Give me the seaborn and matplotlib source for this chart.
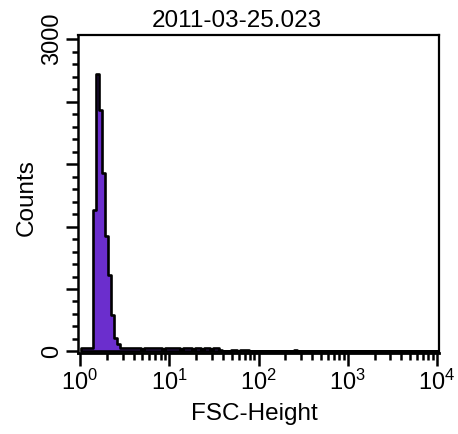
import numpy as np
import pandas as pd
import matplotlib
matplotlib.use("Agg")
import matplotlib.pyplot as plt
import seaborn as sns
from matplotlib.ticker import FixedLocator, MultipleLocator, FuncFormatter

# ---------------- data ----------------
title = "2011-03-25.023"
x_label = "FSC-Height"
y_label = "Counts"

bin_start_log = 0.015      # first bin edge (log10 units)
bin_width_log = 0.0335     # bin width (log10 units)
n_bins = 119

counts = [
    30, 32, 31, 30,                                   # below the peak
    1356, 2670, 2317, 1712, 1106, 731, 346, 125, 67,  # main peak
    32, 30, 31, 29, 30, 31, 30, 28, 30, 29, 31,       # low plateau
    30, 29, 30, 28, 30, 29, 31, 30, 29, 28, 30,
    29, 30, 28, 29, 30, 28, 29, 30, 28, 29, 30,
    12, 0, 0, 0, 15, 10, 0, 15, 15, 12,               # sparse events
    0, 0, 0, 0, 0, 0, 0, 0, 0, 0, 0, 0, 0, 0, 0, 10,
]

y_major_ticks = [0, 600, 1200, 1800, 2400, 3000]
y_labeled_ticks = [0, 3000]
y_minor_step = 120
x_decades = [0, 4]

purple = "#6b2ecd"

# ---------------- figure ----------------
sns.set_style("ticks")
plt.rcParams["font.family"] = ["Liberation Sans", "DejaVu Sans"]
plt.rcParams["mathtext.fontset"] = "custom"
plt.rcParams["mathtext.rm"] = "Liberation Sans"
plt.rcParams["mathtext.it"] = "Liberation Sans:italic"
plt.rcParams["mathtext.bf"] = "Liberation Sans:bold"
plt.rcParams["text.color"] = "black"
plt.rcParams["axes.labelcolor"] = "black"
plt.rcParams["xtick.color"] = "black"
plt.rcParams["ytick.color"] = "black"

W, H = 458, 434
fig = plt.figure(figsize=(W / 100, H / 100), dpi=100)
ax_left, ax_right, ax_top, ax_bottom = 78, 439, 35, 352.5
ax = fig.add_axes([ax_left / W, 1 - ax_bottom / H,
                   (ax_right - ax_left) / W, (ax_bottom - ax_top) / H])

centers = [10 ** (bin_start_log + (k + 0.5) * bin_width_log) for k in range(len(counts))]
df = pd.DataFrame({"fsc": centers, "count": counts})

sns.histplot(data=df, x="fsc", weights="count", log_scale=True,
             binwidth=bin_width_log,
             binrange=(bin_start_log, bin_start_log + n_bins * bin_width_log),
             element="step", fill=True, color=purple, edgecolor="black",
             linewidth=1.9, alpha=1, ax=ax)

px_per_decade = (437 - 80) / 4
ax.set_xlim(10 ** (x_decades[0] - 2 / px_per_decade), 10 ** (x_decades[1] + 2 / px_per_decade))
ax.set_ylim(-10, 3040)

# spines
for s in ax.spines.values():
    s.set_color("black")
    s.set_linewidth(1.6)
ax.spines["bottom"].set_linewidth(2.0)
ax.spines["left"].set_linewidth(1.8)

# y ticks
ax.yaxis.set_major_locator(FixedLocator(y_major_ticks))
ax.yaxis.set_minor_locator(MultipleLocator(y_minor_step))
ax.yaxis.set_major_formatter(FuncFormatter(
    lambda v, p: f"{int(round(v))}" if int(round(v)) in y_labeled_ticks else ""))
ax.tick_params(axis="y", which="major", length=8.8, width=1.8, pad=2, labelsize=17,
               labelrotation=90, color="black", labelcolor="black")
ax.tick_params(axis="y", which="minor", length=4.4, width=1.8, color="black")
for lab in ax.get_yticklabels():
    lab.set_va("center")

# x ticks
ax.tick_params(axis="x", which="major", length=9.4, width=1.8, pad=3, labelsize=17,
               color="black", labelcolor="black")
ax.tick_params(axis="x", which="minor", length=5.0, width=1.8, color="black")

# labels
ax.set_xlabel(x_label, fontsize=17.5, va="baseline", color="black")
ax.xaxis.set_label_coords((254 - ax_left) / (ax_right - ax_left),
                          (ax_bottom - 420) / (ax_bottom - ax_top))
ax.set_ylabel(y_label, fontsize=17.5, va="baseline", color="black")
ax.yaxis.set_label_coords((33 - ax_left) / (ax_right - ax_left),
                          (ax_bottom - 198) / (ax_bottom - ax_top))

fig.text(237 / W, 1 - 27 / H, title, ha="center", va="baseline", fontsize=17.5,
         color="black")

fig.savefig("out.png", dpi=100)
